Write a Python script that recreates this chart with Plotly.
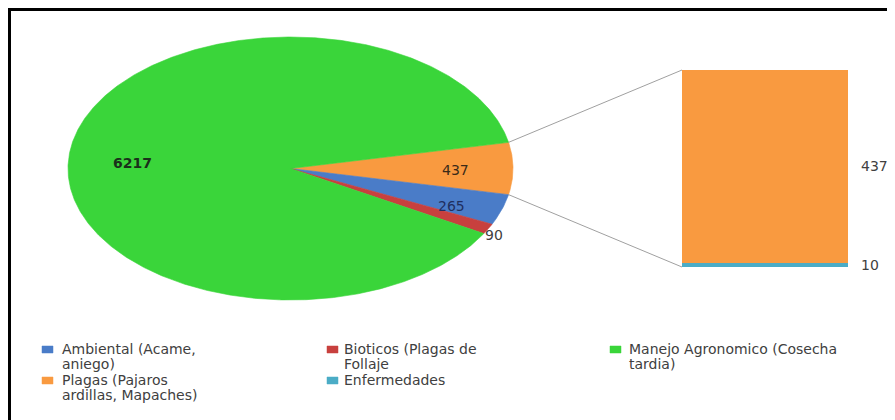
import numpy as np
import plotly.graph_objects as go

# ---------------- data ----------------
categories = ["Ambiental (Acame, aniego)", "Bioticos (Plagas de Follaje",
              "Manejo Agronomico (Cosecha tardia)", "Plagas (Pajaros ardillas, Mapaches)",
              "Enfermedades"]
values = [265, 90, 6217, 437, 10]
colors = ["#4A7CC8", "#C8403E", "#3AD53A", "#F99A40", "#4BACC6"]
legend_lines = [["Ambiental (Acame,", "aniego)"], ["Bioticos (Plagas de", "Follaje"],
                ["Manejo Agronomico (Cosecha", "tardia)"], ["Plagas (Pajaros", "ardillas, Mapaches)"],
                ["Enfermedades"]]
bar_members = [4, 3]            # bottom -> top in the secondary bar
pie_order = ["other", 0, 1, 2]  # clockwise, starting at the top edge of the "other" slice
other_label_idx = 3             # value shown on the "other" slice

# page is 895x420 but the body has an 8px margin
OFF = 8
FW, FH = 895 - OFF, 420 - OFF

def px(x):
    return (x - OFF) / FW

def py(y):
    return 1 - (y - OFF) / FH

# ---------------- geometry (layout) ----------------
cx, cy, ax_r, by_r = 290.5, 168.5, 222.5, 131.5
pad = 1.06
xdom = [px(cx - pad * ax_r), px(cx + pad * ax_r)]
ydom = [py(cy + pad * by_r), py(cy - pad * by_r)]
bar_px = (682, 848, 70, 267)
x2dom = [px(bar_px[0]), px(bar_px[1])]
y2dom = [py(bar_px[3]), py(bar_px[2])]

def pie_to_paper(x, y):
    return (xdom[0] + (x + pad) / (2 * pad) * (xdom[1] - xdom[0]),
            ydom[0] + (y + pad) / (2 * pad) * (ydom[1] - ydom[0]))

other_val = sum(values[i] for i in bar_members)
pie_vals = [other_val if k == "other" else values[k] for k in pie_order]
pie_cols = [colors[3] if k == "other" else colors[k] for k in pie_order]
total = sum(pie_vals)
sweeps = [v / total * 360 for v in pie_vals]
start = sweeps[0] / 2.0

fig = go.Figure()

ang = start
slice_angles = []
for v, sw, col in zip(pie_vals, sweeps, pie_cols):
    t = np.radians(np.linspace(ang, ang - sw, max(int(sw * 2), 6)))
    xs = np.concatenate([[0], np.cos(t), [0]])
    ys = np.concatenate([[0], np.sin(t), [0]])
    fig.add_trace(go.Scatter(x=xs, y=ys, fill="toself", fillcolor=col, mode="lines",
                             line=dict(color=col, width=0.6), hoverinfo="skip",
                             showlegend=False, xaxis="x", yaxis="y"))
    slice_angles.append((ang, ang - sw))
    ang -= sw

annotations = []

# pie labels
lab_texts = [str(values[other_label_idx])] + [str(values[k]) for k in pie_order[1:]]
lab_r = [0.74, 0.76, 1.03, 0.72]
lab_dy = [-2, -6, -4, -9]
lab_cols = ["#3A2A18", "#1F2F5F", "#404040", "#1A301A"]
lab_bold = [False, False, False, True]
for (a0, a1), txt, r, dy, c, b in zip(slice_angles, lab_texts, lab_r, lab_dy, lab_cols, lab_bold):
    m = np.radians((a0 + a1) / 2)
    annotations.append(dict(x=r * np.cos(m), y=r * np.sin(m), xref="x", yref="y",
                            text="<b>%s</b>" % txt if b else txt, showarrow=False,
                            yshift=dy, font=dict(family="DejaVu Sans", size=14, color=c)))

# bar of "other"
for i in bar_members:
    fig.add_trace(go.Bar(x=[0], y=[values[i]], width=1, marker=dict(color=colors[i],
                         line=dict(width=0)), hoverinfo="skip", showlegend=False,
                         xaxis="x2", yaxis="y2"))

cum = 0
for i in bar_members:
    annotations.append(dict(x=0.5, y=cum + values[i] / 2, xref="x2", yref="y2",
                            text=str(values[i]), showarrow=False, xanchor="left",
                            xshift=11, font=dict(family="DejaVu Sans", size=14, color="#404040")))
    cum += values[i]

# connector lines
shapes = []
p_top = pie_to_paper(np.cos(np.radians(slice_angles[0][0])), np.sin(np.radians(slice_angles[0][0])))
p_bot = pie_to_paper(np.cos(np.radians(slice_angles[0][1])), np.sin(np.radians(slice_angles[0][1])))
shapes.append(dict(type="line", xref="paper", yref="paper", x0=p_top[0], y0=p_top[1],
                   x1=x2dom[0], y1=y2dom[1], line=dict(color="#A0A0A0", width=1)))
shapes.append(dict(type="line", xref="paper", yref="paper", x0=p_bot[0], y0=p_bot[1],
                   x1=x2dom[0], y1=y2dom[0], line=dict(color="#A0A0A0", width=1)))

# outer border
shapes.append(dict(type="rect", xref="paper", yref="paper", x0=px(OFF + 1.5), x1=1.02,
                   y0=-0.02, y1=py(OFF + 1.5), line=dict(color="#000000", width=3)))

# legend (manual)
leg_cols = [(42, 60), (327, 342), (610, 627)]
leg_rows = [(349, 364), (380, 395)]
for n, lines in enumerate(legend_lines):
    (mx, tx) = leg_cols[n % 3]
    (y1, y2) = leg_rows[n // 3]
    shapes.append(dict(type="rect", xref="paper", yref="paper",
                       x0=px(mx), x1=px(mx + 11), y0=py(y1 + 4), y1=py(y1 - 3),
                       fillcolor=colors[n], line=dict(color=colors[n], width=0.5)))
    for j, ln in enumerate(lines):
        yy = y1 if j == 0 else y2
        annotations.append(dict(x=px(tx), y=py(yy), xref="paper", yref="paper",
                                text=ln, showarrow=False, xanchor="left", yanchor="middle",
                                font=dict(family="DejaVu Sans", size=14, color="#404040")))

fig.update_layout(
    width=FW, height=FH, margin=dict(l=0, r=0, t=0, b=0),
    paper_bgcolor="white", plot_bgcolor="rgba(0,0,0,0)",
    xaxis=dict(domain=xdom, range=[-pad, pad], visible=False, fixedrange=True),
    yaxis=dict(domain=ydom, range=[-pad, pad], visible=False, fixedrange=True),
    xaxis2=dict(domain=x2dom, range=[-0.5, 0.5], visible=False, fixedrange=True, anchor="y2"),
    yaxis2=dict(domain=y2dom, range=[0, other_val], visible=False, fixedrange=True, anchor="x2"),
    barmode="stack", bargap=0,
    shapes=shapes, annotations=annotations, showlegend=False,
)

fig.write_html("out.html")
